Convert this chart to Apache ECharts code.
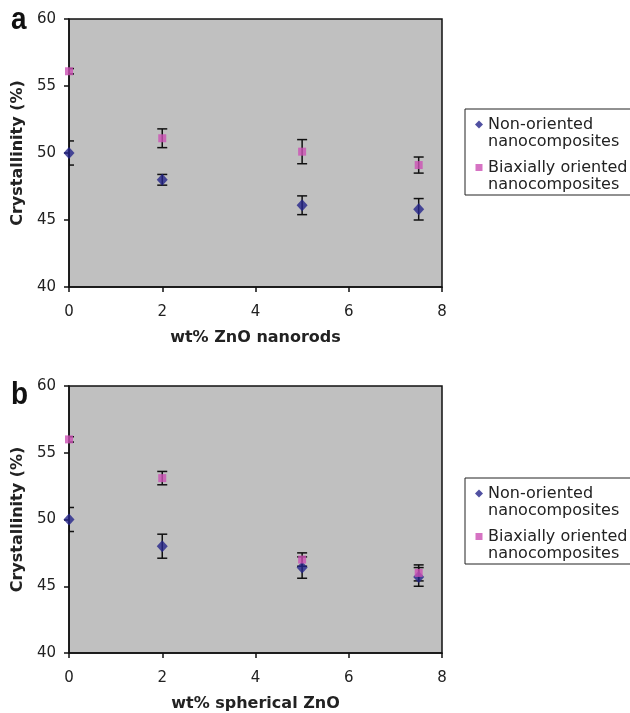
<!DOCTYPE html>
<html>
<head>
<meta charset="utf-8">
<script src="https://cdn.jsdelivr.net/npm/echarts@6/dist/echarts.min.js"></script>
<style>
  html, body { margin: 0; padding: 0; background: #fff; }
  #chart { width: 630px; height: 713px; }
</style>
</head>
<body>
<div id="chart"></div>
<script>
// wt% ZnO loading
var xValues = [0, 2, 5, 7.5];
// panel a - ZnO nanorods
var nonOrientedA = [50.0, 48.0, 46.1, 45.8];
var nonOrientedAErr = [0.9, 0.4, 0.7, 0.8];
var biaxialA = [56.1, 51.1, 50.1, 49.1];
var biaxialAErr = [0.2, 0.7, 0.9, 0.6];
// panel b - spherical ZnO
var nonOrientedB = [50.0, 48.0, 46.4, 45.7];
var nonOrientedBErr = [0.9, 0.9, 0.8, 0.7];
var biaxialB = [56.0, 53.1, 47.0, 46.0];
var biaxialBErr = [0.2, 0.5, 0.5, 0.6];

var xTicks = { min: 0, max: 8, interval: 2 };
var yTicks = { min: 40, max: 60, interval: 5 };
var panelNames = ["a", "b"];
var xNames = ["wt% ZnO nanorods", "wt% spherical ZnO"];
var yName = "Crystallinity (%)";
var seriesNames = ["Non-oriented\nnanocomposites", "Biaxially oriented\nnanocomposites"];

(function () {
  var myechart = echarts.init(document.getElementById("chart"));
  var font = "DejaVu Sans";
  var navy = "#24248a";
  var pink = "#cc50b4";

  function pairs(ys) {
    return xValues.map(function (x, i) { return [x, ys[i]]; });
  }
  function errData(ys, es) {
    return xValues.map(function (x, i) { return [x, ys[i] - es[i], ys[i] + es[i]]; });
  }
  // vertical error bar with caps
  function renderErr(params, api) {
    var lo = api.coord([api.value(0), api.value(1)]);
    var hi = api.coord([api.value(0), api.value(2)]);
    var w = 5;
    var st = { stroke: "#111", lineWidth: 1.5 };
    return {
      type: "group",
      children: [
        { type: "line", shape: { x1: lo[0], y1: lo[1], x2: hi[0], y2: hi[1] }, style: st },
        { type: "line", shape: { x1: lo[0] - w, y1: lo[1], x2: lo[0] + w, y2: lo[1] }, style: st },
        { type: "line", shape: { x1: hi[0] - w, y1: hi[1], x2: hi[0] + w, y2: hi[1] }, style: st },
      ],
    };
  }

  var grids = [
    { left: 69, top: 19, width: 373, height: 268 },
    { left: 69, top: 386, width: 373, height: 268 },
  ];
  var xAxes = [], yAxes = [], series = [], legends = [], graphics = [];

  grids.forEach(function (g, k) {
    g.show = true;
    g.backgroundColor = "#c0c0c0";
    g.borderColor = "#111";
    g.borderWidth = 1.5;
    xAxes.push({
      type: "value",
      gridIndex: k,
      min: xTicks.min,
      max: xTicks.max,
      interval: xTicks.interval,
      name: xNames[k],
      nameLocation: "middle",
      nameGap: 43,
      nameTextStyle: { fontFamily: font, fontWeight: "bold", fontSize: 16, color: "#222" },
      axisLine: { show: true, lineStyle: { color: "#111", width: 1.5 } },
      axisTick: { show: true, length: 5, lineStyle: { color: "#111", width: 1.5 } },
      axisLabel: { fontFamily: font, fontSize: 15, color: "#222", margin: 18 },
      splitLine: { show: false },
    });
    yAxes.push({
      type: "value",
      gridIndex: k,
      min: yTicks.min,
      max: yTicks.max,
      interval: yTicks.interval,
      name: yName,
      nameLocation: "middle",
      nameGap: 38,
      nameTextStyle: { fontFamily: font, fontWeight: "bold", fontSize: 16, color: "#222" },
      axisLine: { show: true, lineStyle: { color: "#111", width: 1.5 } },
      axisTick: { show: true, length: 5, lineStyle: { color: "#111", width: 1.5 } },
      axisLabel: { fontFamily: font, fontSize: 15, color: "#222", margin: 13 },
      splitLine: { show: false },
    });
  });

  var panels = [
    [nonOrientedA, nonOrientedAErr, biaxialA, biaxialAErr],
    [nonOrientedB, nonOrientedBErr, biaxialB, biaxialBErr],
  ];
  panels.forEach(function (p, k) {
    series.push({
      name: "err-non-" + k, type: "custom", xAxisIndex: k, yAxisIndex: k,
      clip: true, renderItem: renderErr, data: errData(p[0], p[1]), z: 2,
    });
    series.push({
      name: "err-biax-" + k, type: "custom", xAxisIndex: k, yAxisIndex: k,
      clip: true, renderItem: renderErr, data: errData(p[2], p[3]), z: 2,
    });
    series.push({
      name: seriesNames[0], type: "scatter", xAxisIndex: k, yAxisIndex: k,
      symbol: "diamond", symbolSize: [11, 12], itemStyle: { color: navy },
      data: pairs(p[0]), z: 3,
    });
    series.push({
      name: seriesNames[1], type: "scatter", xAxisIndex: k, yAxisIndex: k,
      symbol: "rect", symbolSize: 8, itemStyle: { color: pink },
      data: pairs(p[2]), z: 3,
    });
  });

  [109, 478].forEach(function (top) {
    legends.push({
      left: 465,
      top: top,
      orient: "vertical",
      selectedMode: false,
      backgroundColor: "#fff",
      borderColor: "#222",
      borderWidth: 1,
      padding: [7, 8, 2, 10],
      itemGap: 9,
      itemWidth: 8,
      itemHeight: 25,
      textStyle: { fontFamily: font, fontSize: 16, lineHeight: 17, color: "#222" },
      data: [
        { name: seriesNames[0], icon: "path://M4,0L8,4L4,8L0,4Z M4,25L4,25" },
        { name: seriesNames[1], icon: "path://M0.5,0.5H7.5V7.5H0.5Z M0,0L0,0 M8,25L8,25" },
      ],
    });
  });

  [20, 395].forEach(function (y, k) {
    graphics.push({
      type: "text",
      x: 11,
      y: y,
      scaleX: 0.9,
      style: {
        text: panelNames[k],
        font: "bold 31px 'Liberation Sans'",
        fill: "#111",
        verticalAlign: "middle",
      },
    });
  });

  var option = {
    animation: false,
    backgroundColor: "#fff",
    grid: grids,
    xAxis: xAxes,
    yAxis: yAxes,
    legend: legends,
    graphic: graphics,
    series: series,
  };
  myechart.setOption(option);
})();
</script>
</body>
</html>
